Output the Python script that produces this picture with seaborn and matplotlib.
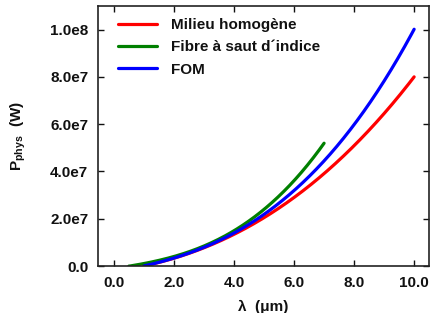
import numpy as np
import pandas as pd
import matplotlib
matplotlib.use("Agg")
import matplotlib.pyplot as plt
import seaborn as sns

#data (lambda in um, power in W)
lam_red = [1, 2, 3, 4, 5, 6, 7, 8, 9, 10]
p_red = [0.0, 0.35e7, 0.75e7, 1.35e7, 2.05e7, 2.9e7, 3.9e7, 5.1e7, 6.45e7, 8.0e7]

lam_green = [0.5, 1, 2, 3, 4, 5, 6, 7]
p_green = [0.0, 0.1e7, 0.4e7, 0.85e7, 1.5e7, 2.4e7, 3.6e7, 5.2e7]

lam_blue = [1, 2, 3, 4, 5, 6, 7, 8, 9, 10]
p_blue = [0.0, 0.35e7, 0.78e7, 1.4e7, 2.2e7, 3.2e7, 4.4e7, 6.0e7, 7.85e7, 10.0e7]

labels = ["Milieu homogène", "Fibre à saut d´indice", "FOM"]
colors = ["#ff0000", "#008000", "#0000ff"]

x_ticks = [0, 2, 4, 6, 8, 10]
y_ticks = [0, 2e7, 4e7, 6e7, 8e7, 1e8]
y_ticklabels = ["0.0", "2.0e7", "4.0e7", "6.0e7", "8.0e7", "1.0e8"]

#build long dataframe for seaborn
df = pd.concat([
    pd.DataFrame({"lam": lam_red, "P": p_red, "serie": labels[0]}),
    pd.DataFrame({"lam": lam_green, "P": p_green, "serie": labels[1]}),
    pd.DataFrame({"lam": lam_blue, "P": p_blue, "serie": labels[2]}),
])

sns.set_style("ticks")
plt.rcParams["font.family"] = ["Liberation Sans", "DejaVu Sans"]
plt.rcParams["font.weight"] = "bold"
plt.rcParams["text.color"] = "#111111"
plt.rcParams["axes.labelcolor"] = "#111111"
plt.rcParams["xtick.color"] = "#111111"
plt.rcParams["ytick.color"] = "#111111"
plt.rcParams["mathtext.fontset"] = "custom"
plt.rcParams["mathtext.bf"] = "Liberation Sans:bold"
plt.rcParams["mathtext.rm"] = "Liberation Sans:bold"

fig = plt.figure(figsize=(4.3, 3.13), dpi=100)
ax = fig.add_axes([0.228, 0.150, 0.770, 0.831])

# smooth curves through the read points (cubic fit)
rows = []
for s in labels:
    sub = df[df["serie"] == s]
    xs = np.linspace(sub["lam"].min(), sub["lam"].max(), 200)
    c = np.polyfit(sub["lam"], sub["P"], 3)
    ys = np.clip(np.polyval(c, xs), 0, None)
    rows.append(pd.DataFrame({"lam": xs, "P": ys, "serie": s}))
smooth = pd.concat(rows)

sns.lineplot(data=smooth, x="lam", y="P", hue="serie", hue_order=labels,
             palette=colors, linewidth=2.3, ax=ax, sort=False)

ax.set_xlim(-0.53, 10.5)
ax.set_ylim(0, 1.1e8)
ax.set_xticks(x_ticks)
ax.set_xticklabels([f"{v:.1f}" for v in x_ticks])
ax.set_yticks(y_ticks)
ax.set_yticklabels(y_ticklabels)

ax.tick_params(direction="in", top=True, right=True, length=4, width=1,
               labelsize=11, pad=7)
for lbl in ax.get_xticklabels() + ax.get_yticklabels():
    lbl.set_fontweight("bold")
for sp in ax.spines.values():
    sp.set_linewidth(1.2)
    sp.set_color("#222222")

ax.set_xlabel("λ  (μm)", fontsize=11, fontweight="bold", labelpad=7)
ax.set_ylabel(r"$\mathbf{P_{phys}}$  (W)", fontsize=11, fontweight="bold", labelpad=16)

leg = ax.legend(loc="upper left", bbox_to_anchor=(0.03, 0.992), frameon=False,
                fontsize=11, handlelength=2.55, labelspacing=0.55,
                borderaxespad=0.25, handletextpad=0.9)
for t in leg.get_texts():
    t.set_fontweight("bold")
for h in leg.get_lines():
    h.set_linewidth(2.3)

fig.savefig("out.png", dpi=100)
